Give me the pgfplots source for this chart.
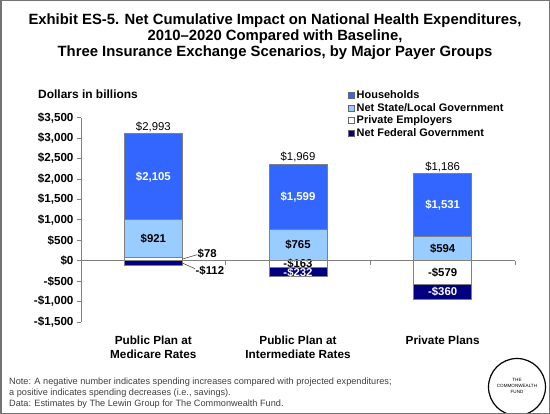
\documentclass[border=0pt]{standalone}
\usepackage{fontspec}
\setmainfont{Liberation Sans}
\usepackage{pgfplots}
\usepackage{pgfplotstable}
\pgfplotsset{compat=1.18}
\definecolor{hh}{HTML}{3366FF}
\definecolor{sl}{HTML}{99CCFF}
\definecolor{fed}{HTML}{000080}
\definecolor{edge}{HTML}{808080}
\newcommand\lab{\fontsize{11.4}{13}\selectfont\bfseries}
\newcommand\tot{\fontsize{11.4}{13}\selectfont}
% x: 0 = Public Plan at Medicare Rates, 1 = Public Plan at Intermediate Rates, 2 = Private Plans
% pp/pn = Private Employers (positive / negative part), st = Net State/Local Gov.,
% hh = Households, fd = Net Federal Gov.
\pgfplotstableread{
x  pp  st   hh    pn    fd
0  78  921  2105  0     -112
1  0   765  1599  -163  -232
2  0   594  1531  -579  -360
}\nhe
\pgfplotsset{
  base/.style={
    at={(81bp,92bp)}, anchor=south west,
    scale only axis, width=434bp, height=204.3bp,
    ybar stacked, bar width=0.4,
    xmin=-0.5, xmax=2.5, ymin=-1500, ymax=3500,
    clip=false,
  },
  seg/.style={fill=#1, draw=edge, line width=0.8bp},
}
\begin{document}
\begin{tikzpicture}
\path[use as bounding box] (0bp,0bp) rectangle (550bp,414bp);
\fill[white] (0bp,0bp) rectangle (550bp,414bp);
\node[align=center, font=\fontsize{14.9}{16}\selectfont\bfseries] at (275bp,377.5bp)
  {Exhibit ES-5. Net Cumulative Impact on National Health Expenditures,\\2010--2020 Compared with Baseline,\\Three Insurance Exchange Scenarios, by Major Payer Groups};
\node[anchor=west, inner sep=0pt, font=\fontsize{12}{14}\selectfont\bfseries] at (38bp,320bp) {Dollars in billions};
% positive parts of the stacks
\begin{axis}[base,
  axis y line*=left, axis x line*=bottom,
  x axis line style={draw=none},
  y axis line style={draw=edge, line width=0.8bp},
  xtick={0,1,2},
  xticklabels={{Public Plan at\\Medicare Rates},{Public Plan at\\Intermediate Rates},{Private Plans}},
  xtick style={draw=none},
  xticklabel style={align=center, font=\fontsize{11.8}{15}\selectfont\bfseries, anchor=north, yshift=-6bp},
  ytick={-1500,-1000,...,3500},
  yticklabels={{-\$1,500},{-\$1,000},{-\$500},{\$0},{\$500},{\$1,000},{\$1,500},{\$2,000},{\$2,500},{\$3,000},{\$3,500}},
  yticklabel style={font=\fontsize{11.7}{14}\selectfont\bfseries},
  ytick style={draw=edge, line width=0.8bp},
  tick align=outside, major tick length=4bp,
  legend cell align=left,
  legend style={at={(0.615,1.142)}, anchor=north west, draw=none, fill=none,
    font=\fontsize{11}{13}\selectfont\bfseries, row sep=-1bp, inner sep=0pt},
  legend image code/.code={\draw[#1, draw=black!60, line width=0.6bp] (0bp,-3bp) rectangle (6bp,3bp);},
]
\addlegendimage{fill=hh}\addlegendentry{Households}
\addlegendimage{fill=sl}\addlegendentry{Net State/Local Government}
\addlegendimage{fill=white}\addlegendentry{Private Employers}
\addlegendimage{fill=fed}\addlegendentry{Net Federal Government}
\addplot[seg=white] table[x=x,y=pp]{\nhe};
\addplot[seg=sl] table[x=x,y=st]{\nhe};
\addplot[seg=hh] table[x=x,y=hh]{\nhe};
\end{axis}
% negative parts of the stacks
\begin{axis}[base, hide axis]
\addplot[seg=white] table[x=x,y=pn]{\nhe};
\addplot[seg=fed] table[x=x,y=fd]{\nhe};
\end{axis}
% value labels, zero line and separators on top
\begin{axis}[base, hide axis]
\draw[edge, line width=0.8bp] (axis cs:-0.5,0) -- (axis cs:2.5,0);
\draw[edge, line width=0.8bp] (axis cs:0.5,0) -- ++(0bp,-4bp);
\draw[edge, line width=0.8bp] (axis cs:1.5,0) -- ++(0bp,-4bp);
\draw[edge, line width=0.8bp] (axis cs:2.5,0) -- ++(0bp,-4bp);
\node[font=\tot, anchor=south, inner sep=2bp] at (axis cs:0,3104) {\$2,993};
\node[font=\lab, text=white] at (axis cs:0,2052) {\$2,105};
\node[font=\lab] at (axis cs:0,538) {\$921};
\draw[black!70, line width=0.6bp] (axis cs:0.2,39) -- (axis cs:0.302,147);
\node[font=\lab, anchor=west, inner sep=0.5bp] at (axis cs:0.302,171) {\$78};
\draw[black!70, line width=0.6bp] (axis cs:0.2,-56) -- (axis cs:0.288,-196);
\node[font=\lab, anchor=west, inner sep=0.5bp] at (axis cs:0.288,-245) {-\$112};
\node[font=\tot, anchor=south, inner sep=2bp] at (axis cs:1,2364) {\$1,969};
\node[font=\lab, text=white] at (axis cs:1,1564) {\$1,599};
\node[font=\lab] at (axis cs:1,382) {\$765};
\node[font=\lab] at (axis cs:1,-70) {-\$163};
\node[font=\lab, text=white] at (axis cs:1,-296) {-\$232};
\node[font=\tot, anchor=south, inner sep=2bp] at (axis cs:2,2125) {\$1,186};
\node[font=\lab, text=white] at (axis cs:2,1359) {\$1,531};
\node[font=\lab] at (axis cs:2,297) {\$594};
\node[font=\lab] at (axis cs:2,-290) {-\$579};
\node[font=\lab, text=white] at (axis cs:2,-759) {-\$360};
\end{axis}
\node[anchor=base west, inner sep=0pt, font=\fontsize{9.2}{11}\selectfont, text=black!75] at (9bp,30bp) {Note: A negative number indicates spending increases compared with projected expenditures;};
\node[anchor=base west, inner sep=0pt, font=\fontsize{9.2}{11}\selectfont, text=black!75] at (9bp,19bp) {a positive indicates spending decreases (i.e., savings).};
\node[anchor=base west, inner sep=0pt, font=\fontsize{9.2}{11}\selectfont, text=black!75] at (9bp,8bp) {Data: Estimates by The Lewin Group for The Commonwealth Fund.};
\begin{scope}
\clip (0bp,0bp) rectangle (550bp,414bp);
\draw[line width=1.2bp] (517bp,27bp) circle (28.5bp);
\end{scope}
\node[align=center, font=\fontsize{4.6}{5.6}\selectfont] at (517bp,28bp) {THE\\COMMONWEALTH\\FUND};
\draw[black!55, line width=1.5bp] (0.75bp,0.75bp) rectangle (549.25bp,413.25bp);
\end{tikzpicture}
\end{document}
